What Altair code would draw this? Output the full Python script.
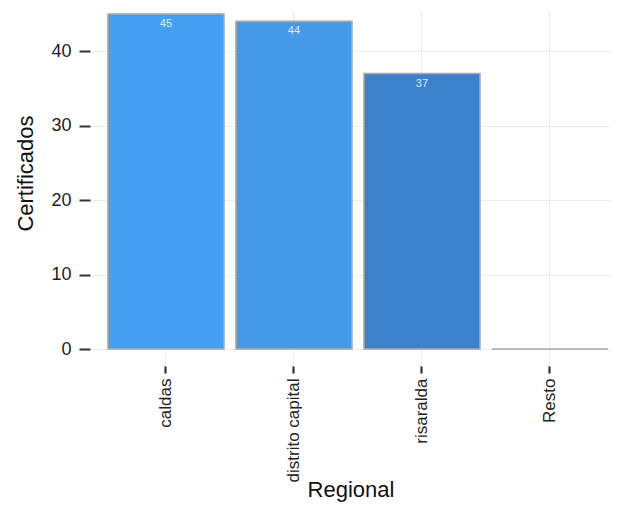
import altair as alt
import pandas as pd

regions = ["caldas", "distrito capital", "risaralda", "Resto"]
values = [45, 44, 37, 0]
fills = ["#459FF3", "#4699E8", "#3B82CA", "#2F6AA8"]
all_ticks = [0, 5, 10, 15, 20, 25, 30, 35, 40, 45]

df = pd.DataFrame({"Regional": regions, "Certificados": values})

FONT = "Liberation Sans"

x = alt.X(
    "Regional:N",
    sort=regions,
    title="Regional",
    scale=alt.Scale(paddingInner=0.094, paddingOuter=0.082, align=0.856),
    axis=alt.Axis(
        labelAngle=270,
        labelAlign="right",
        labelBaseline="middle",
        labelFontSize=17,
        labelColor="#222222",
        labelPadding=5,
        labelFont=FONT,
        ticks=True,
        tickSize=7,
        tickWidth=2.2,
        tickColor="#333333",
        domain=False,
        grid=True,
        gridColor="#ebebeb",
        gridWidth=1.2,
        titleFontSize=22,
        titleFontWeight="normal",
        titleFont=FONT,
        titleColor="#111111",
        titleBaseline="top",
        titleY=113,
    ),
)

y = alt.Y(
    "Certificados:Q",
    title="Certificados",
    scale=alt.Scale(domain=[-2.28, 45.4], nice=False, zero=False),
    axis=alt.Axis(
        values=all_ticks,
        labelExpr="datum.value % 10 == 0 ? datum.label : ''",
        labelFontSize=18,
        labelColor="#222222",
        labelFont=FONT,
        labelPadding=8,
        tickSize=11,
        tickWidth=2,
        tickColor="#333333",
        tickOpacity={"condition": {"test": "datum.value % 10 == 0", "value": 1}, "value": 0},
        domain=False,
        grid=True,
        gridColor="#ebebeb",
        gridWidth=1.2,
        titleFontSize=22,
        titleFontWeight="normal",
        titleFont=FONT,
        titleColor="#111111",
        titleAngle=270,
        titleX=-65,
        titleY=162,
        titleBaseline="middle",
        titleAlign="center",
    ),
)

bars = alt.Chart(df).mark_bar(stroke="#a8a8a8", strokeWidth=1.6).encode(
    x=x,
    y=y,
    y2=alt.datum(0),
    fill=alt.Fill("Regional:N", scale=alt.Scale(domain=regions, range=fills), legend=None),
)

labels = alt.Chart(df).transform_filter("datum.Certificados > 0").mark_text(
    baseline="middle", dy=10, fontSize=11, color="#ffffff", opacity=0.8, font=FONT
).encode(
    x=alt.X("Regional:N", sort=regions),
    y=alt.Y("Certificados:Q"),
    text="Certificados:Q",
)

chart = (
    alt.layer(bars, labels)
    .properties(
        width=521,
        height=355,
        background="white",
        autosize=alt.AutoSizeParams(type="none"),
        padding={"left": 82, "top": 3, "right": 0, "bottom": 141},
    )
    .configure_view(stroke="transparent", strokeWidth=0)
)

chart.save("out.html", embed_options={"renderer": "svg", "actions": False})
